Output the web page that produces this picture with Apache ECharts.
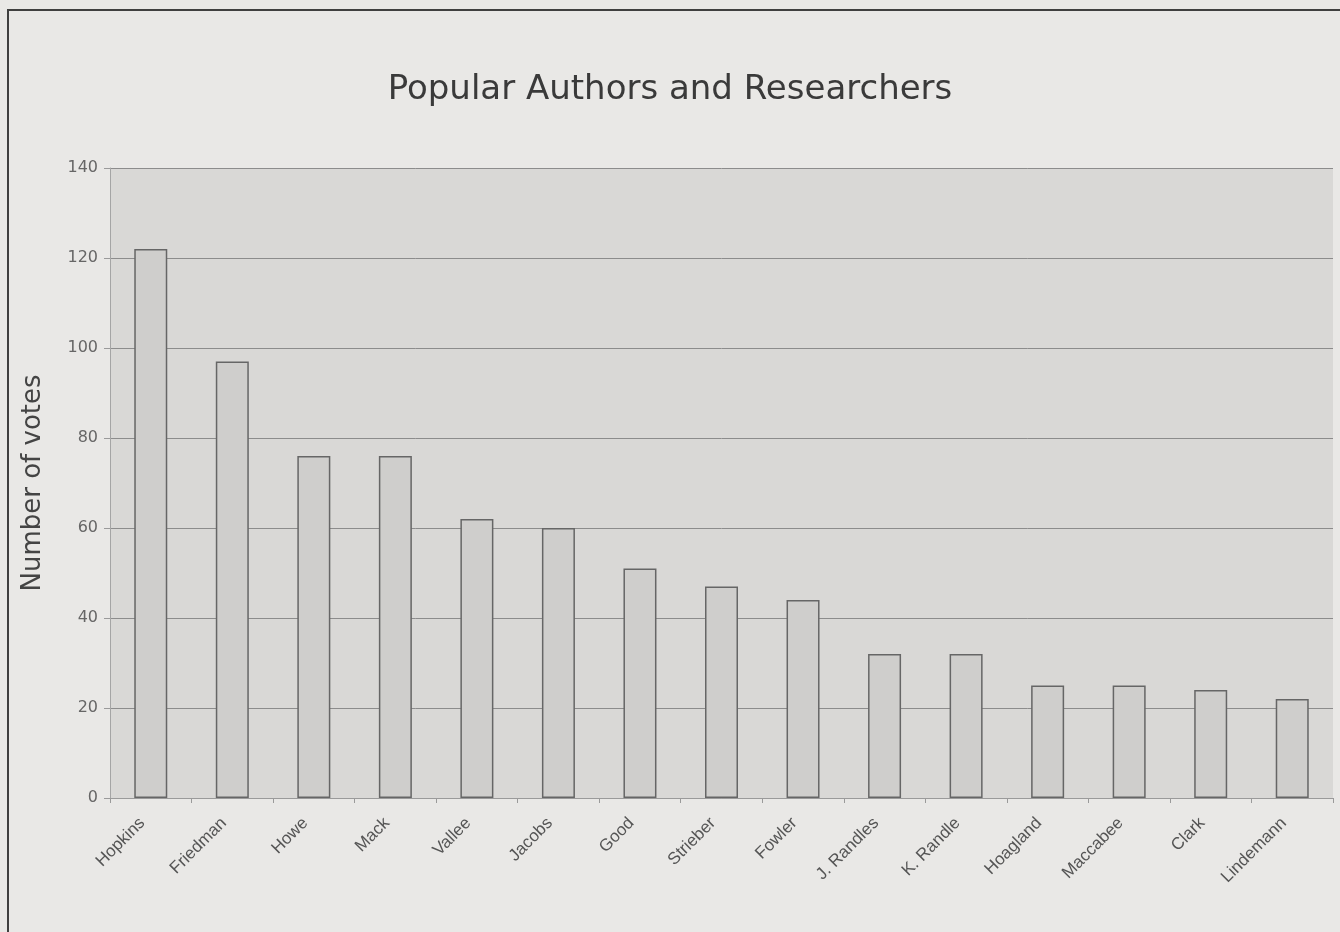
<!DOCTYPE html>
<html>
<head>
<meta charset="utf-8">
<script src="https://cdn.jsdelivr.net/npm/echarts@6/dist/echarts.min.js"></script>
<style>
  html, body { margin: 0; padding: 0; background: #e9e8e6; }
  #frame {
    position: absolute; left: 7px; top: 9px; width: 1400px; height: 1000px;
    border-left: 2px solid #3f3f3f; border-top: 2px solid #3f3f3f;
  }
  #chart { position: absolute; left: 0; top: 0; width: 1340px; height: 932px; }
</style>
</head>
<body>
<div id="frame"></div>
<div id="chart"></div>
<script>
const authors = ['Hopkins', 'Friedman', 'Howe', 'Mack', 'Vallee', 'Jacobs', 'Good', 'Strieber',
  'Fowler', 'J. Randles', 'K. Randle', 'Hoagland', 'Maccabee', 'Clark', 'Lindemann']
const votes = [122, 97, 76, 76, 62, 60, 51, 47, 44, 32, 32, 25, 25, 24, 22]

const chart = echarts.init(document.getElementById('chart'))
chart.setOption({
  animation: false,
  backgroundColor: 'transparent',
  textStyle: { fontFamily: 'DejaVu Sans' },
  title: {
    text: 'Popular Authors and Researchers',
    left: 'center',
    top: 68,
    textStyle: { color: '#3a3a3a', fontSize: 34, fontWeight: 'normal', fontFamily: 'DejaVu Sans' }
  },
  grid: {
    left: 110, right: 7, top: 168, bottom: 134,
    show: true, backgroundColor: '#d9d8d6', borderWidth: 0
  },
  xAxis: {
    type: 'category',
    data: authors,
    axisLine: { lineStyle: { color: '#9a9a9a', width: 1 } },
    axisTick: { show: true, length: 5, lineStyle: { color: '#9a9a9a' } },
    axisLabel: {
      rotate: 45, color: '#555', fontSize: 17, margin: 14, interval: 0,
      fontFamily: 'Liberation Sans', padding: [0, 12, 0, 0]
    }
  },
  yAxis: {
    type: 'value',
    min: 0, max: 140, interval: 20,
    name: 'Number of votes',
    nameLocation: 'middle',
    nameGap: 64,
    nameTextStyle: { color: '#444', fontSize: 26 },
    axisLine: { show: true, lineStyle: { color: '#a5a5a5', width: 1 } },
    axisTick: { show: true, length: 6, lineStyle: { color: '#9a9a9a' } },
    axisLabel: { color: '#666', fontSize: 16, margin: 12 },
    splitLine: { lineStyle: { color: '#8c8c8c', width: 1 } }
  },
  series: [{
    type: 'bar',
    data: votes,
    barWidth: 33,
    itemStyle: { color: '#cfcecc', borderColor: '#666', borderWidth: 1.5 }
  }]
})
</script>
</body>
</html>
